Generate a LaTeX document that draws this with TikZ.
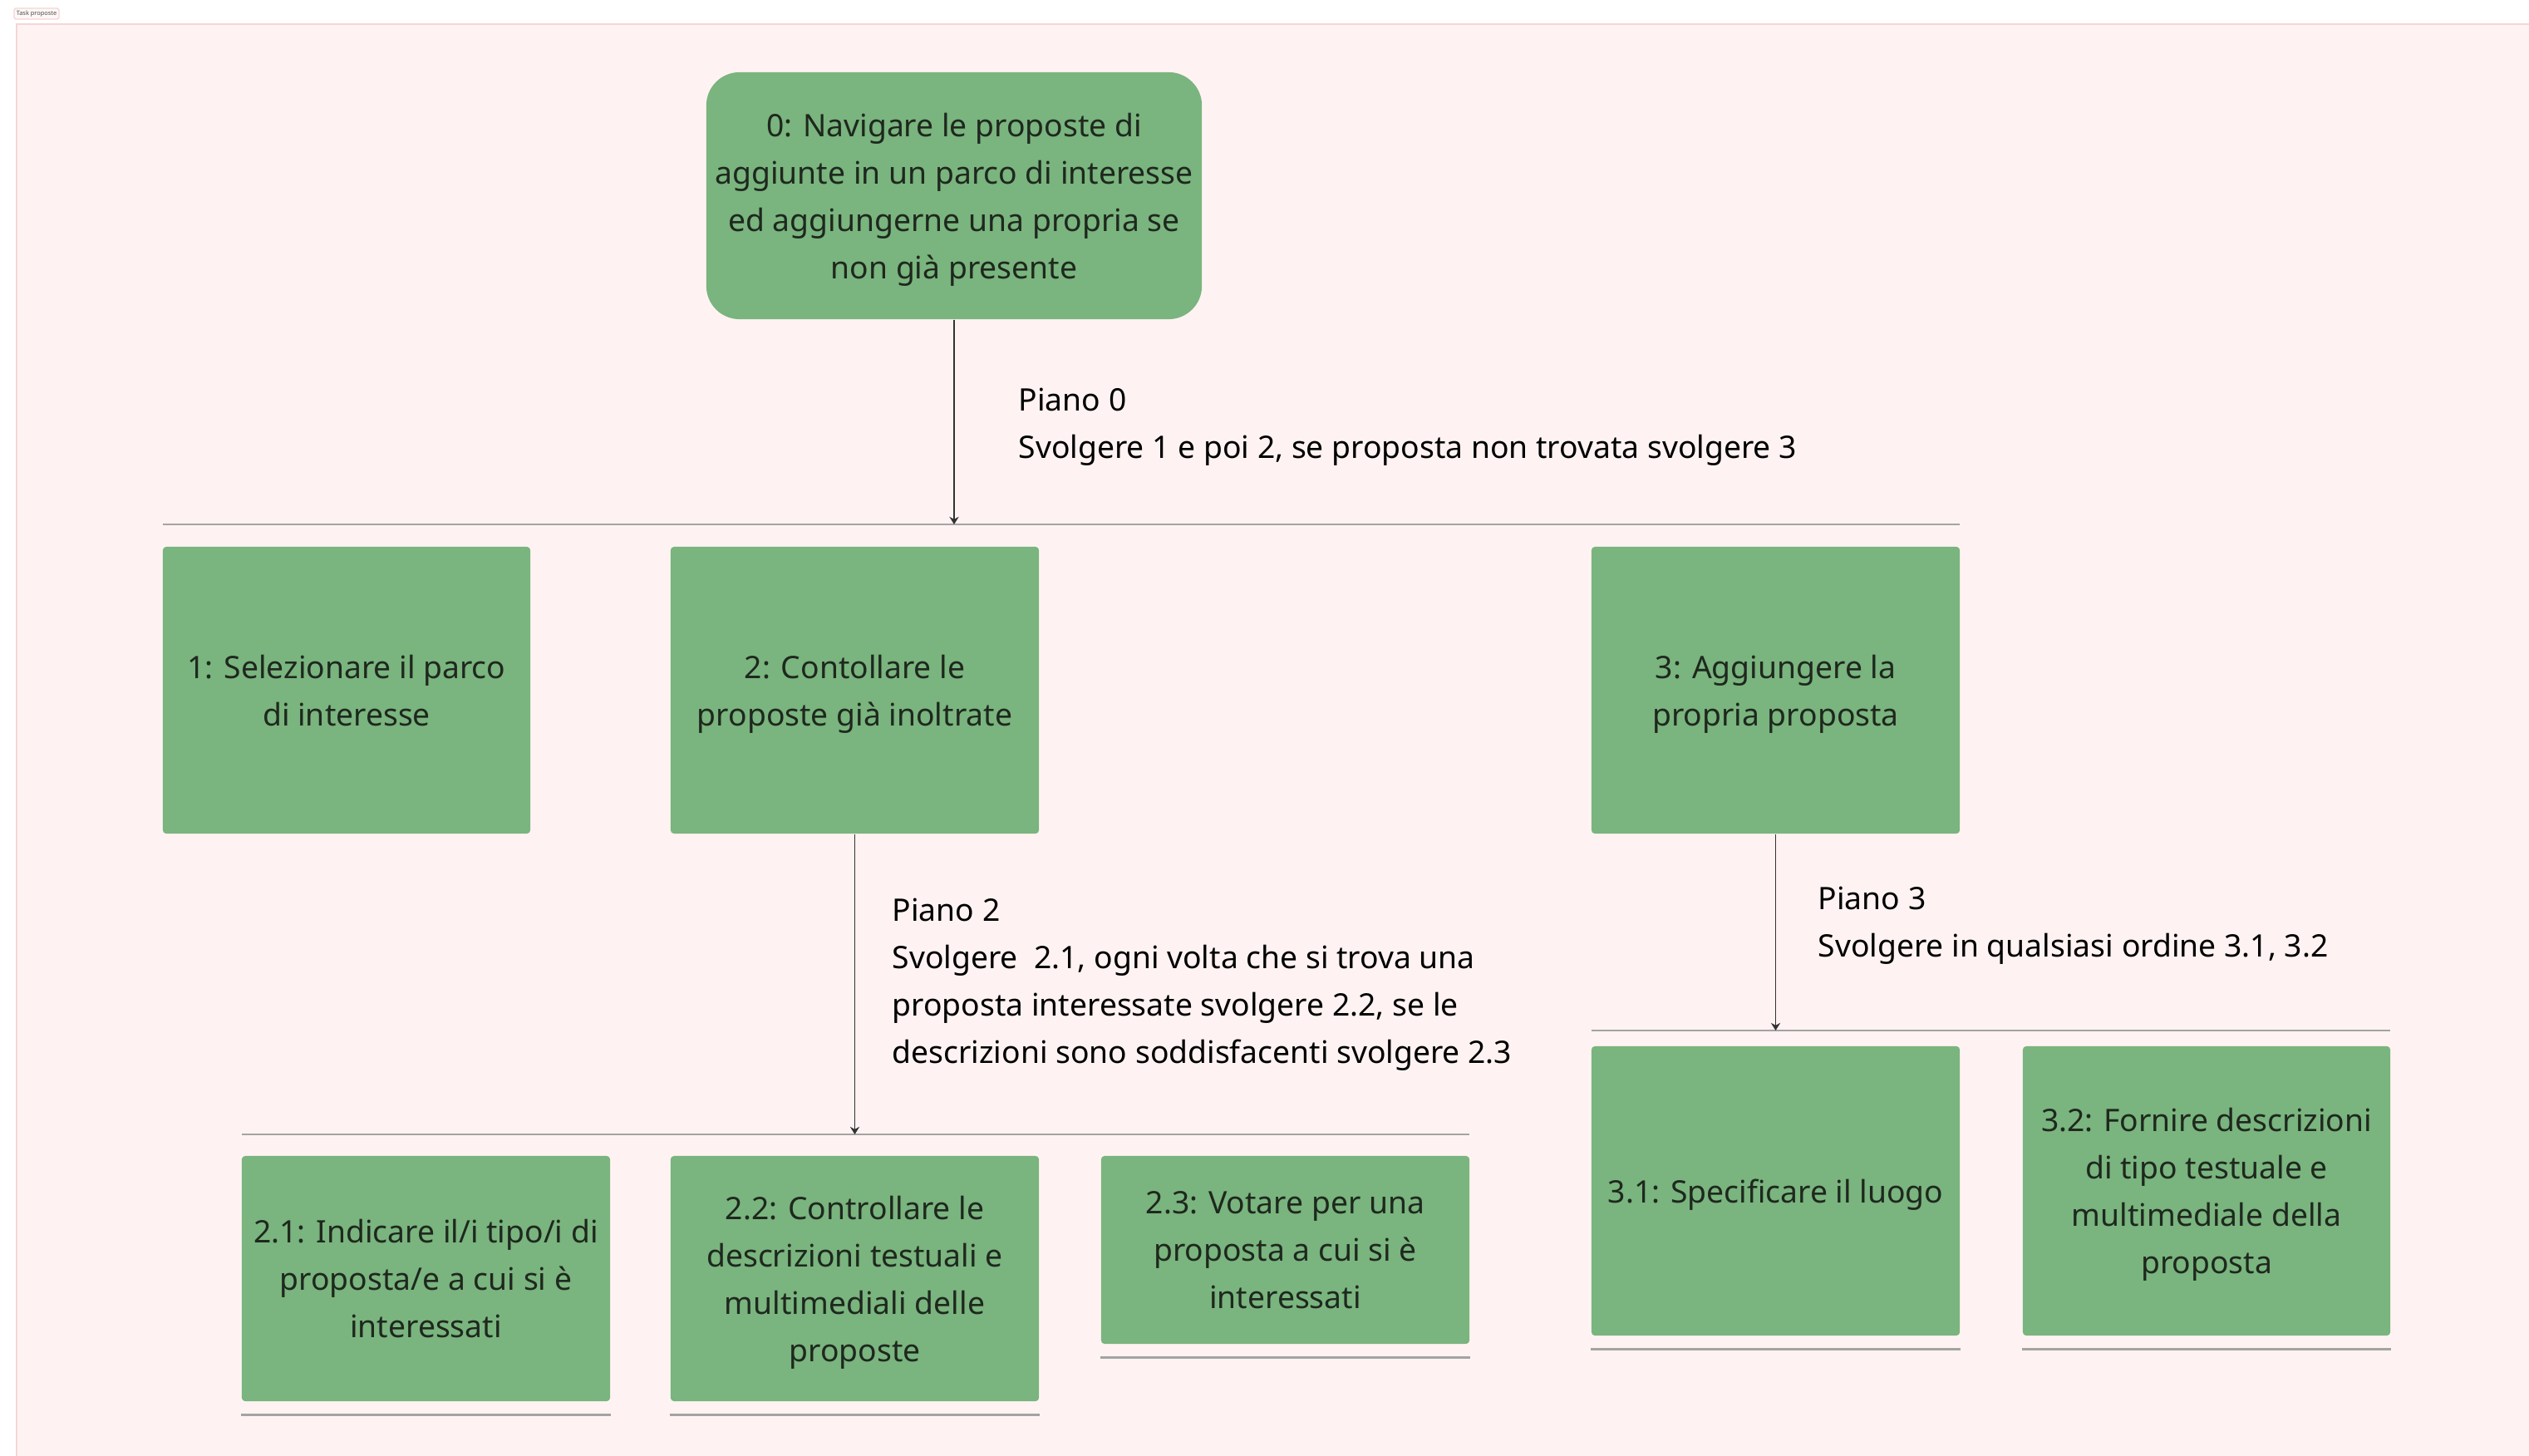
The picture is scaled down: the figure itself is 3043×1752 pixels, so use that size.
\documentclass[tikz,border=0pt]{standalone}
\usepackage{fontspec}
\setmainfont{Noto Sans}
\usetikzlibrary{arrows.meta}
\definecolor{taskgreen}{HTML}{7AB47E}
\definecolor{taskink}{HTML}{1E281E}
\definecolor{framepink}{HTML}{FEF3F2}
\definecolor{frameedge}{HTML}{F4D6D5}
\definecolor{barline}{HTML}{A3A3A3}

\newcommand{\taskfont}{\fontsize{10.6pt}{16.2pt}\selectfont}

\begin{document}
\begin{tikzpicture}[x=0.01cm, y=-0.01cm,
    task/.style={fill=taskgreen, text=taskink, rounded corners=1.2pt,
      align=center, inner sep=0pt, font=\taskfont, text depth=0pt,
      minimum width=4.43cm},
    plan/.style={anchor=west, align=left, inner sep=0pt, text=black,
      font=\taskfont, text depth=0pt},
    bar/.style={draw=barline, line width=0.8pt},
    link/.style={draw=black!80, line width=0.45pt, -{Stealth[length=2.6pt,width=3.2pt]}}]
  \useasboundingbox (0,0) rectangle (3043,1752);
  \fill[white] (0,0) rectangle (3043,1752);
  % canvas
  \filldraw[fill=framepink, draw=frameedge, line width=0.5pt] (20,29) rectangle (3060,1770);
  \node[draw=frameedge, fill=framepink!60, rounded corners=0.5pt, inner sep=0.8pt,
    font=\fontsize{2.1pt}{2.5pt}\selectfont, text=black!70] (tag) at (44,16.5) {Task proposte};

  % goal
  \node[task, rounded corners=0.4cm, minimum width=5.96cm, minimum height=2.97cm]
    (root) at (1148,235.5) {0: Navigare le proposte di\\aggiunte in un parco di interesse\\ed aggiungerne una propria se\\non già presente};

  % level 1
  \coordinate (bar0l) at (196,631);
  \coordinate (bar0r) at (2358,631);
  \draw[bar] (bar0l) -- (bar0r);
  \draw[link] (root) -- (root |- bar0l);
  \node[plan] (plan0) at (1225,509) {Piano 0\\Svolgere 1 e poi 2, se proposta non trovata svolgere 3};

  \node[task, minimum width=4.42cm, minimum height=3.45cm] (t1) at (417,830.5) {1: Selezionare il parco\\di interesse};
  \node[task, minimum height=3.45cm] (t2) at (1028.5,830.5) {2: Contollare le\\proposte già inoltrate};
  \node[task, minimum height=3.45cm] (t3) at (2136.5,830.5) {3: Aggiungere la\\propria proposta};

  % plan 2
  \coordinate (bar2l) at (291,1365);
  \coordinate (bar2r) at (1768,1365);
  \draw[bar] (bar2l) -- (bar2r);
  \draw[link] (t2) -- (t2 |- bar2l);
  \node[plan] (plan2) at (1073,1180) {Piano 2\\Svolgere~ 2.1, ogni volta che si trova una\\proposta interessate svolgere 2.2, se le\\descrizioni sono soddisfacenti svolgere 2.3};

  \node[task, minimum height=2.95cm] (t21) at (512.5,1538.5) {2.1: Indicare il/i tipo/i di\\proposta/e a cui si è\\interessati};
  \node[task, minimum height=2.95cm] (t22) at (1028.5,1538.5) {2.2: Controllare le\\descrizioni testuali e\\multimediali delle\\proposte};
  \node[task, minimum height=2.26cm] (t23) at (1546.5,1504) {2.3: Votare per una\\proposta a cui si è\\interessati};

  % plan 3
  \coordinate (bar3l) at (1915,1240);
  \coordinate (bar3r) at (2876,1240);
  \draw[bar] (bar3l) -- (bar3r);
  \draw[link] (t3) -- (t3 |- bar3l);
  \node[plan] (plan3) at (2187,1109) {Piano 3\\Svolgere in qualsiasi ordine 3.1, 3.2};

  \node[task, minimum height=3.48cm] (t31) at (2136.5,1433) {3.1: Specificare il luogo};
  \node[task, minimum width=4.42cm, minimum height=3.48cm] (t32) at (2655,1433) {3.2: Fornire descrizioni\\di tipo testuale e\\multimediale della\\proposta};

  % leaf lines
  \foreach \leaf in {t21,t22,t23,t31,t32}
    \draw[bar] ([yshift=-0.16cm]\leaf.south west) -- ([yshift=-0.16cm]\leaf.south east);
\end{tikzpicture}
\end{document}
